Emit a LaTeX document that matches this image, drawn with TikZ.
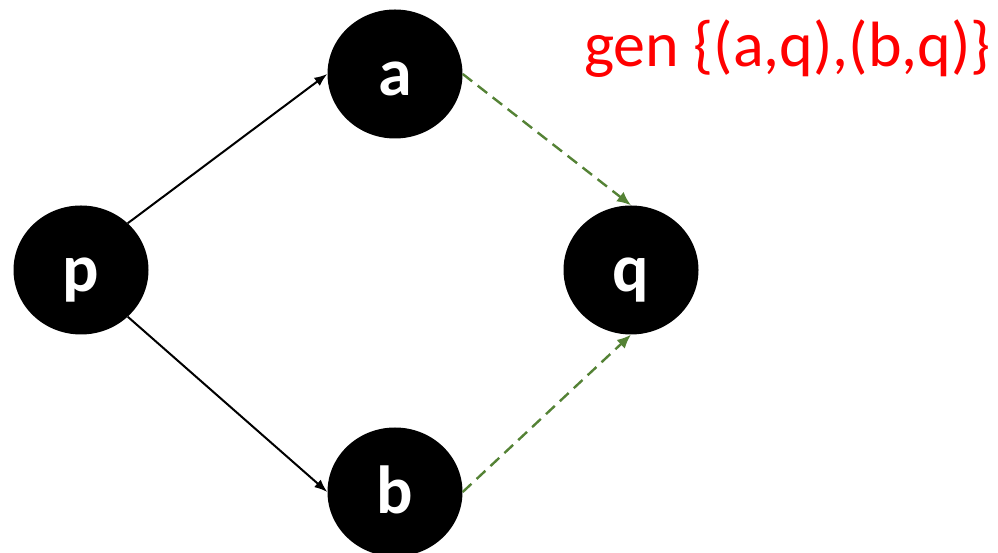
\documentclass[tikz,border=0pt]{standalone}
\usepackage{fontspec}
\setmainfont{Carlito}
\usepackage{tikz}
\usetikzlibrary{shapes.geometric,arrows.meta}

\definecolor{gengreen}{RGB}{84,130,53}

\begin{document}
\begin{tikzpicture}[
            x=1pt, y=1pt,
            nd/.style={ellipse, fill=black, text=white, minimum width=135pt, minimum height=129pt,
                inner sep=0pt, text height=44pt, text depth=0pt,
                font=\fontsize{68}{70}\selectfont\bfseries},
            ed/.style={draw, line width=2pt, -{Latex[length=13pt,width=10pt]}},
            gn/.style={draw=gengreen, line width=2.4pt, dash pattern=on 12pt off 7pt,
                -{Latex[length=14pt,width=12pt]}, color=gengreen},
            lbl/.style={text=red, inner sep=0pt, anchor=base west, font=\fontsize{64}{66}\selectfont}
        ]
        \useasboundingbox (0,0) rectangle (998,553);
        \node[nd] (p) at (81,283)  {p};
        \node[nd] (a) at (395,479) {a};
        \node[nd] (b) at (395,61)  {b};
        \node[nd] (q) at (631,283) {q};
        \node[lbl] (gen) at (584,486) {gen \{(a,q),(b,q)\}};
        \draw[ed] (p.45) to (a.west);
        \draw[ed] (p.-45) to (b.west);
        \draw[gn] (a.east) to (q.north);
        \draw[gn] (b.east) to (q.south);
    \end{tikzpicture}
\end{document}
